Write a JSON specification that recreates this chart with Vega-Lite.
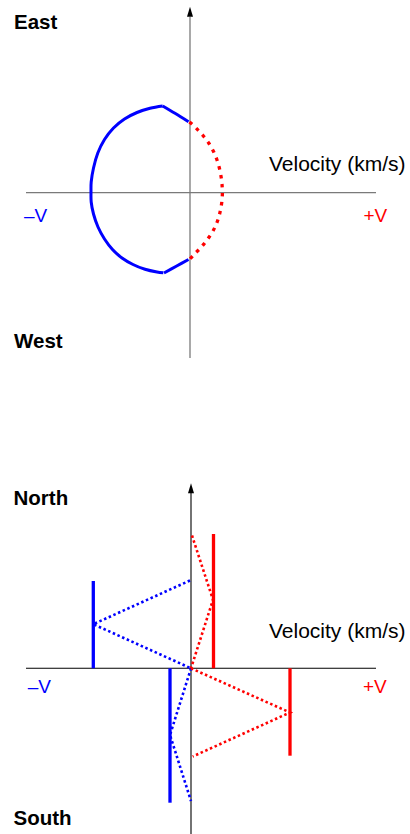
{
  "$schema": "https://vega.github.io/schema/vega-lite/v6.json",
  "padding": 0,
  "spacing": 0,
  "config": {
    "view": {"stroke": null},
    "concat": {"spacing": 0},
    "text": {"font": "Liberation Sans", "align": "left", "baseline": "alphabetic"}
  },
  "datasets": {
    "topAxes": [
      {"v": -16.4, "p": 0, "v2": 18.6, "p2": 0},
      {"v": 0, "p": -16.53, "v2": 0, "p2": 17.6}
    ],
    "topArrow": [{"v": 0, "p": 18.1}],
    "topBlue": [
      {"seg": "upper", "i": 0, "v": -2.73, "p": 8.67},
      {"seg": "upper", "i": 1, "v": -1.5, "p": 7.94},
      {"seg": "upper", "i": 2, "v": -0.15, "p": 7.1},
      {"seg": "arc", "i": 0, "v": -2.73, "p": 8.67},
      {"seg": "arc", "i": 1, "v": -4.0, "p": 8.44},
      {"seg": "arc", "i": 2, "v": -5.3, "p": 8.02},
      {"seg": "arc", "i": 3, "v": -6.55, "p": 7.37},
      {"seg": "arc", "i": 4, "v": -7.65, "p": 6.47},
      {"seg": "arc", "i": 5, "v": -8.55, "p": 5.32},
      {"seg": "arc", "i": 6, "v": -9.22, "p": 3.97},
      {"seg": "arc", "i": 7, "v": -9.65, "p": 2.47},
      {"seg": "arc", "i": 8, "v": -9.88, "p": 1.07},
      {"seg": "arc", "i": 9, "v": -9.9, "p": 0.07},
      {"seg": "arc", "i": 10, "v": -9.88, "p": -0.93},
      {"seg": "arc", "i": 11, "v": -9.65, "p": -2.13},
      {"seg": "arc", "i": 12, "v": -9.2, "p": -3.43},
      {"seg": "arc", "i": 13, "v": -8.55, "p": -4.63},
      {"seg": "arc", "i": 14, "v": -7.75, "p": -5.68},
      {"seg": "arc", "i": 15, "v": -6.8, "p": -6.53},
      {"seg": "arc", "i": 16, "v": -5.7, "p": -7.18},
      {"seg": "arc", "i": 17, "v": -4.5, "p": -7.66},
      {"seg": "arc", "i": 18, "v": -3.3, "p": -7.93},
      {"seg": "arc", "i": 19, "v": -2.67, "p": -8.01},
      {"seg": "lower", "i": 0, "v": -2.6, "p": -8.03},
      {"seg": "lower", "i": 1, "v": -1.33, "p": -7.33},
      {"seg": "lower", "i": 2, "v": -0.15, "p": -6.68}
    ],
    "topRed": [
      {"i": 0, "v": -0.05, "p": 7.07},
      {"i": 1, "v": 0.6, "p": 6.47},
      {"i": 2, "v": 1.3, "p": 5.72},
      {"i": 3, "v": 1.9, "p": 4.92},
      {"i": 4, "v": 2.4, "p": 4.02},
      {"i": 5, "v": 2.8, "p": 2.97},
      {"i": 6, "v": 3.08, "p": 1.77},
      {"i": 7, "v": 3.22, "p": 0.57},
      {"i": 8, "v": 3.22, "p": -0.53},
      {"i": 9, "v": 3.05, "p": -1.73},
      {"i": 10, "v": 2.75, "p": -2.83},
      {"i": 11, "v": 2.3, "p": -3.83},
      {"i": 12, "v": 1.7, "p": -4.73},
      {"i": 13, "v": 1.0, "p": -5.58},
      {"i": 14, "v": 0.35, "p": -6.23},
      {"i": 15, "v": -0.05, "p": -6.68}
    ],
    "topText": [
      {"role": "direction", "label": "East", "v": -17.6, "p": 16.34},
      {"role": "direction", "label": "West", "v": -17.6, "p": -15.53},
      {"role": "title", "label": "Velocity (km/s)", "v": 7.9, "p": 2.2},
      {"role": "end", "sign": "approaching", "label": "–V", "v": -16.6, "p": -2.9},
      {"role": "end", "sign": "receding", "label": "+V", "v": 17.35, "p": -2.9}
    ],
    "botAxes": [
      {"v": -16.5, "p": 0, "v2": 18.5, "p2": 0},
      {"v": 0, "p": -16.57, "v2": 0, "p2": 17.6}
    ],
    "botArrow": [{"v": 0, "p": 18.0}],
    "botBars": [
      {"sign": "approaching", "v": -9.77, "p": 0, "p2": 8.73},
      {"sign": "approaching", "v": -2.1, "p": 0, "p2": -13.44},
      {"sign": "receding", "v": 2.25, "p": 0, "p2": 13.43},
      {"sign": "receding", "v": 9.9, "p": 0, "p2": -8.74}
    ],
    "botLinks": [
      {"sign": "approaching", "seg": "bA", "i": 0, "v": -0.1, "p": 8.78},
      {"sign": "approaching", "seg": "bA", "i": 1, "v": -9.77, "p": 4.41},
      {"sign": "approaching", "seg": "bA", "i": 2, "v": 0, "p": 0},
      {"sign": "approaching", "seg": "bB", "i": 0, "v": 0, "p": 0},
      {"sign": "approaching", "seg": "bB", "i": 1, "v": -2.1, "p": -6.67},
      {"sign": "approaching", "seg": "bB", "i": 2, "v": 0, "p": -13.27},
      {"sign": "receding", "seg": "rA", "i": 0, "v": 0.1, "p": 13.28},
      {"sign": "receding", "seg": "rA", "i": 1, "v": 2.2, "p": 6.85},
      {"sign": "receding", "seg": "rA", "i": 2, "v": 0, "p": 0},
      {"sign": "receding", "seg": "rB", "i": 0, "v": 0, "p": 0},
      {"sign": "receding", "seg": "rB", "i": 1, "v": 9.9, "p": -4.42},
      {"sign": "receding", "seg": "rB", "i": 2, "v": 0.17, "p": -8.82}
    ],
    "botText": [
      {"role": "direction", "label": "North", "v": -17.75, "p": 16.33},
      {"role": "direction", "label": "South", "v": -17.75, "p": -15.67},
      {"role": "title", "label": "Velocity (km/s)", "v": 7.8, "p": 3.0},
      {"role": "end", "sign": "approaching", "label": "–V", "v": -16.33, "p": -2.5},
      {"role": "end", "sign": "receding", "label": "+V", "v": 17.2, "p": -2.5}
    ]
  },
  "vconcat": [
    {
      "width": 410,
      "height": 417,
      "layer": [
        {
          "data": {"name": "topAxes"},
          "mark": {"type": "rule", "color": "#7a7a7a", "strokeWidth": 1.3},
          "encoding": {
            "x": {"field": "v", "type": "quantitative", "axis": null, "scale": {"domain": [-19, 22], "nice": false, "zero": false}},
            "y": {"field": "p", "type": "quantitative", "axis": null, "scale": {"domain": [-22.43, 19.27], "nice": false, "zero": false}},
            "x2": {"field": "v2"},
            "y2": {"field": "p2"}
          }
        },
        {
          "data": {"name": "topArrow"},
          "mark": {"type": "point", "shape": "M0,-1L0.6,1L-0.6,1Z", "filled": true, "color": "#000000", "opacity": 1, "size": 100, "strokeWidth": 0},
          "encoding": {
            "x": {"field": "v", "type": "quantitative", "axis": null, "scale": {"domain": [-19, 22], "nice": false, "zero": false}},
            "y": {"field": "p", "type": "quantitative", "axis": null, "scale": {"domain": [-22.43, 19.27], "nice": false, "zero": false}}
          }
        },
        {
          "data": {"name": "topBlue"},
          "mark": {"type": "line", "color": "#0000ff", "strokeWidth": 3, "interpolate": "catmull-rom", "strokeCap": "butt"},
          "encoding": {
            "x": {"field": "v", "type": "quantitative", "axis": null, "scale": {"domain": [-19, 22], "nice": false, "zero": false}},
            "y": {"field": "p", "type": "quantitative", "axis": null, "scale": {"domain": [-22.43, 19.27], "nice": false, "zero": false}},
            "detail": {"field": "seg"},
            "order": {"field": "i", "type": "quantitative"}
          }
        },
        {
          "data": {"name": "topRed"},
          "mark": {"type": "line", "color": "#ff0000", "strokeWidth": 3.3, "strokeDash": [3.5, 5.5], "interpolate": "catmull-rom", "strokeCap": "butt"},
          "encoding": {
            "x": {"field": "v", "type": "quantitative", "axis": null, "scale": {"domain": [-19, 22], "nice": false, "zero": false}},
            "y": {"field": "p", "type": "quantitative", "axis": null, "scale": {"domain": [-22.43, 19.27], "nice": false, "zero": false}},
            "order": {"field": "i", "type": "quantitative"}
          }
        },
        {
          "data": {"name": "topText"},
          "transform": [{"filter": "datum.role === 'direction'"}],
          "mark": {"type": "text", "fontSize": 20.5, "fontWeight": "bold", "color": "#000000"},
          "encoding": {
            "x": {"field": "v", "type": "quantitative", "axis": null, "scale": {"domain": [-19, 22], "nice": false, "zero": false}},
            "y": {"field": "p", "type": "quantitative", "axis": null, "scale": {"domain": [-22.43, 19.27], "nice": false, "zero": false}},
            "text": {"field": "label"}
          }
        },
        {
          "data": {"name": "topText"},
          "transform": [{"filter": "datum.role === 'title'"}],
          "mark": {"type": "text", "fontSize": 21, "color": "#000000"},
          "encoding": {
            "x": {"field": "v", "type": "quantitative", "axis": null, "scale": {"domain": [-19, 22], "nice": false, "zero": false}},
            "y": {"field": "p", "type": "quantitative", "axis": null, "scale": {"domain": [-22.43, 19.27], "nice": false, "zero": false}},
            "text": {"field": "label"}
          }
        },
        {
          "data": {"name": "topText"},
          "transform": [{"filter": "datum.role === 'end'"}],
          "mark": {"type": "text", "fontSize": 19},
          "encoding": {
            "x": {"field": "v", "type": "quantitative", "axis": null, "scale": {"domain": [-19, 22], "nice": false, "zero": false}},
            "y": {"field": "p", "type": "quantitative", "axis": null, "scale": {"domain": [-22.43, 19.27], "nice": false, "zero": false}},
            "text": {"field": "label"},
            "color": {"field": "sign", "type": "nominal", "legend": null, "scale": {"domain": ["approaching", "receding"], "range": ["#0000ff", "#ff0000"]}}
          }
        }
      ]
    },
    {
      "width": 410,
      "height": 417,
      "layer": [
        {
          "data": {"name": "botAxes"},
          "mark": {"type": "rule", "color": "#000000", "strokeWidth": 1.1},
          "encoding": {
            "x": {"field": "v", "type": "quantitative", "axis": null, "scale": {"domain": [-19.1, 21.9], "nice": false, "zero": false}},
            "y": {"field": "p", "type": "quantitative", "axis": null, "scale": {"domain": [-16.57, 25.13], "nice": false, "zero": false}},
            "x2": {"field": "v2"},
            "y2": {"field": "p2"}
          }
        },
        {
          "data": {"name": "botArrow"},
          "mark": {"type": "point", "shape": "M0,-1L0.6,1L-0.6,1Z", "filled": true, "color": "#000000", "opacity": 1, "size": 100, "strokeWidth": 0},
          "encoding": {
            "x": {"field": "v", "type": "quantitative", "axis": null, "scale": {"domain": [-19.1, 21.9], "nice": false, "zero": false}},
            "y": {"field": "p", "type": "quantitative", "axis": null, "scale": {"domain": [-16.57, 25.13], "nice": false, "zero": false}}
          }
        },
        {
          "data": {"name": "botLinks"},
          "mark": {"type": "line", "strokeWidth": 2.6, "strokeDash": [2.5, 2.6], "strokeCap": "butt"},
          "encoding": {
            "x": {"field": "v", "type": "quantitative", "axis": null, "scale": {"domain": [-19.1, 21.9], "nice": false, "zero": false}},
            "y": {"field": "p", "type": "quantitative", "axis": null, "scale": {"domain": [-16.57, 25.13], "nice": false, "zero": false}},
            "detail": {"field": "seg"},
            "order": {"field": "i", "type": "quantitative"},
            "color": {"field": "sign", "type": "nominal", "legend": null, "scale": {"domain": ["approaching", "receding"], "range": ["#0000ff", "#ff0000"]}}
          }
        },
        {
          "data": {"name": "botBars"},
          "mark": {"type": "rule", "strokeWidth": 3.3, "strokeCap": "butt"},
          "encoding": {
            "x": {"field": "v", "type": "quantitative", "axis": null, "scale": {"domain": [-19.1, 21.9], "nice": false, "zero": false}},
            "y": {"field": "p", "type": "quantitative", "axis": null, "scale": {"domain": [-16.57, 25.13], "nice": false, "zero": false}},
            "y2": {"field": "p2"},
            "color": {"field": "sign", "type": "nominal", "legend": null, "scale": {"domain": ["approaching", "receding"], "range": ["#0000ff", "#ff0000"]}}
          }
        },
        {
          "data": {"name": "botText"},
          "transform": [{"filter": "datum.role === 'direction'"}],
          "mark": {"type": "text", "fontSize": 20.5, "fontWeight": "bold", "color": "#000000"},
          "encoding": {
            "x": {"field": "v", "type": "quantitative", "axis": null, "scale": {"domain": [-19.1, 21.9], "nice": false, "zero": false}},
            "y": {"field": "p", "type": "quantitative", "axis": null, "scale": {"domain": [-16.57, 25.13], "nice": false, "zero": false}},
            "text": {"field": "label"}
          }
        },
        {
          "data": {"name": "botText"},
          "transform": [{"filter": "datum.role === 'title'"}],
          "mark": {"type": "text", "fontSize": 21, "color": "#000000"},
          "encoding": {
            "x": {"field": "v", "type": "quantitative", "axis": null, "scale": {"domain": [-19.1, 21.9], "nice": false, "zero": false}},
            "y": {"field": "p", "type": "quantitative", "axis": null, "scale": {"domain": [-16.57, 25.13], "nice": false, "zero": false}},
            "text": {"field": "label"}
          }
        },
        {
          "data": {"name": "botText"},
          "transform": [{"filter": "datum.role === 'end'"}],
          "mark": {"type": "text", "fontSize": 19},
          "encoding": {
            "x": {"field": "v", "type": "quantitative", "axis": null, "scale": {"domain": [-19.1, 21.9], "nice": false, "zero": false}},
            "y": {"field": "p", "type": "quantitative", "axis": null, "scale": {"domain": [-16.57, 25.13], "nice": false, "zero": false}},
            "text": {"field": "label"},
            "color": {"field": "sign", "type": "nominal", "legend": null, "scale": {"domain": ["approaching", "receding"], "range": ["#0000ff", "#ff0000"]}}
          }
        }
      ]
    }
  ]
}
